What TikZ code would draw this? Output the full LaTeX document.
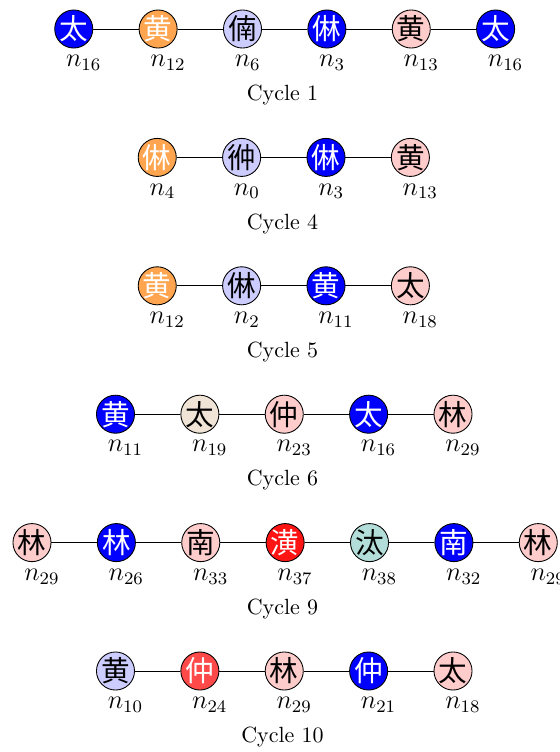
\documentclass[tikz,border=0pt]{standalone}
\usepackage{fontspec}
\newfontfamily\cjkfont{Noto Sans CJK SC}
\usetikzlibrary{positioning}
\definecolor{hzBlueC}{HTML}{0000FF}
\definecolor{hzOrangeC}{HTML}{FFA54F}
\definecolor{hzLavC}{HTML}{CCCCFF}
\definecolor{hzPinkC}{HTML}{FFCCCC}
\definecolor{hzBeigeC}{HTML}{F0E4D6}
\definecolor{hzTealC}{HTML}{B2DDD8}
\definecolor{hzRedC}{HTML}{FF1414}
\definecolor{hzCoralC}{HTML}{FF4A4A}
\newcommand{\hz}[1]{\makebox[0pt]{\cjkfont\fontsize{13}{13}\selectfont\raisebox{-.38em}[0pt][0pt]{#1}}}
\tikzset{
  hznode/.style={circle, draw=black, line width=0.4pt, minimum size=17.3pt, inner sep=0pt},
  hzBlue/.style={hznode, fill=hzBlueC, text=white},
  hzOrange/.style={hznode, fill=hzOrangeC, text=white},
  hzLav/.style={hznode, fill=hzLavC},
  hzPink/.style={hznode, fill=hzPinkC},
  hzBeige/.style={hznode, fill=hzBeigeC},
  hzTeal/.style={hznode, fill=hzTealC},
  hzRed/.style={hznode, fill=hzRedC, text=white},
  hzCoral/.style={hznode, fill=hzCoralC, text=white},
  nlab/.style={anchor=base, inner sep=0pt, font=\large},
  cylab/.style={anchor=base, inner sep=0pt, font=\normalsize},
  cyline/.style={draw=black, line width=0.4pt},
}

\begin{document}
\begin{tikzpicture}[x=0.4545pt, y=-0.4545pt, node distance=20.65pt]
\useasboundingbox (0,0) rectangle (560,752);

% Cycle 1
\node[hzBlue] (c1a) at (73.75,29) {\hz{太}};
\node[hzOrange, right=of c1a] (c1b) {\hz{黄}};
\node[hzLav, right=of c1b] (c1c) {\hz{㑲}};
\node[hzBlue, right=of c1c] (c1d) {\hz{㑣}};
\node[hzPink, right=of c1d] (c1e) {\hz{黄}};
\node[hzBlue, right=of c1e] (c1f) {\hz{太}};
\draw[cyline] (c1a) -- (c1b) -- (c1c) -- (c1d) -- (c1e) -- (c1f);
\node[below=17.1pt of c1a.center, nlab] (n1a) {$n\rlap{$_{16}$}$};
\node[below=17.1pt of c1b.center, nlab] (n1b) {$n\rlap{$_{12}$}$};
\node[below=17.1pt of c1c.center, nlab] (n1c) {$n\rlap{$_{6}$}$};
\node[below=17.1pt of c1d.center, nlab] (n1d) {$n\rlap{$_{3}$}$};
\node[below=17.1pt of c1e.center, nlab] (n1e) {$n\rlap{$_{13}$}$};
\node[below=17.1pt of c1f.center, nlab] (n1f) {$n\rlap{$_{16}$}$};
\node[cylab] (t1) at (282.5,100.7) {Cycle 1};

% Cycle 4
\node[hzOrange] (c4a) at (157.25,157.4) {\hz{㑣}};
\node[hzLav, right=of c4a] (c4b) {\hz{㣡}};
\node[hzBlue, right=of c4b] (c4c) {\hz{㑣}};
\node[hzPink, right=of c4c] (c4d) {\hz{黄}};
\draw[cyline] (c4a) -- (c4b) -- (c4c) -- (c4d);
\node[below=17.1pt of c4a.center, nlab] (n4a) {$n\rlap{$_{4}$}$};
\node[below=17.1pt of c4b.center, nlab] (n4b) {$n\rlap{$_{0}$}$};
\node[below=17.1pt of c4c.center, nlab] (n4c) {$n\rlap{$_{3}$}$};
\node[below=17.1pt of c4d.center, nlab] (n4d) {$n\rlap{$_{13}$}$};
\node[cylab] (t4) at (282.5,229.1) {Cycle 4};

% Cycle 5
\node[hzOrange] (c5a) at (157.25,285.8) {\hz{黄}};
\node[hzLav, right=of c5a] (c5b) {\hz{㑣}};
\node[hzBlue, right=of c5b] (c5c) {\hz{黄}};
\node[hzPink, right=of c5c] (c5d) {\hz{太}};
\draw[cyline] (c5a) -- (c5b) -- (c5c) -- (c5d);
\node[below=17.1pt of c5a.center, nlab] (n5a) {$n\rlap{$_{12}$}$};
\node[below=17.1pt of c5b.center, nlab] (n5b) {$n\rlap{$_{2}$}$};
\node[below=17.1pt of c5c.center, nlab] (n5c) {$n\rlap{$_{11}$}$};
\node[below=17.1pt of c5d.center, nlab] (n5d) {$n\rlap{$_{18}$}$};
\node[cylab] (t5) at (282.5,357.5) {Cycle 5};

% Cycle 6
\node[hzBlue] (c6a) at (115.5,414.2) {\hz{黄}};
\node[hzBeige, right=of c6a] (c6b) {\hz{太}};
\node[hzPink, right=of c6b] (c6c) {\hz{仲}};
\node[hzBlue, right=of c6c] (c6d) {\hz{太}};
\node[hzPink, right=of c6d] (c6e) {\hz{林}};
\draw[cyline] (c6a) -- (c6b) -- (c6c) -- (c6d) -- (c6e);
\node[below=17.1pt of c6a.center, nlab] (n6a) {$n\rlap{$_{11}$}$};
\node[below=17.1pt of c6b.center, nlab] (n6b) {$n\rlap{$_{19}$}$};
\node[below=17.1pt of c6c.center, nlab] (n6c) {$n\rlap{$_{23}$}$};
\node[below=17.1pt of c6d.center, nlab] (n6d) {$n\rlap{$_{16}$}$};
\node[below=17.1pt of c6e.center, nlab] (n6e) {$n\rlap{$_{29}$}$};
\node[cylab] (t6) at (282.5,485.9) {Cycle 6};

% Cycle 9
\node[hzPink] (c9a) at (32,542.6) {\hz{林}};
\node[hzBlue, right=of c9a] (c9b) {\hz{林}};
\node[hzPink, right=of c9b] (c9c) {\hz{南}};
\node[hzRed, right=of c9c] (c9d) {\hz{潢}};
\node[hzTeal, right=of c9d] (c9e) {\hz{汰}};
\node[hzBlue, right=of c9e] (c9f) {\hz{南}};
\node[hzPink, right=of c9f] (c9g) {\hz{林}};
\draw[cyline] (c9a) -- (c9b) -- (c9c) -- (c9d) -- (c9e) -- (c9f) -- (c9g);
\node[below=17.1pt of c9a.center, nlab] (n9a) {$n\rlap{$_{29}$}$};
\node[below=17.1pt of c9b.center, nlab] (n9b) {$n\rlap{$_{26}$}$};
\node[below=17.1pt of c9c.center, nlab] (n9c) {$n\rlap{$_{33}$}$};
\node[below=17.1pt of c9d.center, nlab] (n9d) {$n\rlap{$_{37}$}$};
\node[below=17.1pt of c9e.center, nlab] (n9e) {$n\rlap{$_{38}$}$};
\node[below=17.1pt of c9f.center, nlab] (n9f) {$n\rlap{$_{32}$}$};
\node[below=17.1pt of c9g.center, nlab] (n9g) {$n\rlap{$_{29}$}$};
\node[cylab] (t9) at (282.5,614.3) {Cycle 9};

% Cycle 10
\node[hzLav] (c10a) at (115.5,671) {\hz{黄}};
\node[hzCoral, right=of c10a] (c10b) {\hz{仲}};
\node[hzPink, right=of c10b] (c10c) {\hz{林}};
\node[hzBlue, right=of c10c] (c10d) {\hz{仲}};
\node[hzPink, right=of c10d] (c10e) {\hz{太}};
\draw[cyline] (c10a) -- (c10b) -- (c10c) -- (c10d) -- (c10e);
\node[below=17.1pt of c10a.center, nlab] (n10a) {$n\rlap{$_{10}$}$};
\node[below=17.1pt of c10b.center, nlab] (n10b) {$n\rlap{$_{24}$}$};
\node[below=17.1pt of c10c.center, nlab] (n10c) {$n\rlap{$_{29}$}$};
\node[below=17.1pt of c10d.center, nlab] (n10d) {$n\rlap{$_{21}$}$};
\node[below=17.1pt of c10e.center, nlab] (n10e) {$n\rlap{$_{18}$}$};
\node[cylab] (t10) at (282.5,742.7) {Cycle 10};
\end{tikzpicture}
\end{document}
